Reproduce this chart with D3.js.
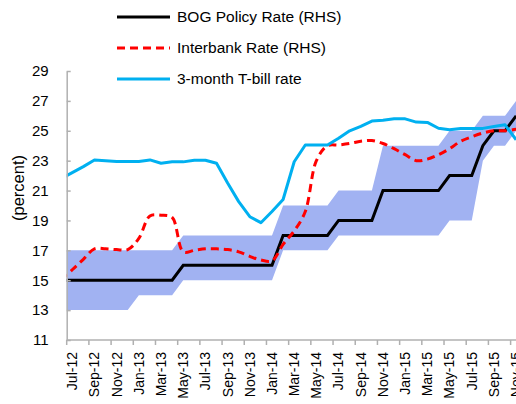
<!DOCTYPE html>
<html>
<head>
<meta charset="utf-8">
<script src="https://cdn.jsdelivr.net/npm/d3@7/dist/d3.min.js"></script>
<style>
  html, body { margin: 0; padding: 0; background: #fff; overflow: hidden; }
  svg { display: block; font-family: "Liberation Sans", Arial, sans-serif; }
</style>
</head>
<body>
<div id="chart"></div>
<script>
// ---- Data (monthly, Jun-12 .. Nov-15; Jun-12 only shows as the line entering the axis) ----
const months = [
  "Jun-12","Jul-12","Aug-12","Sep-12","Oct-12","Nov-12","Dec-12",
  "Jan-13","Feb-13","Mar-13","Apr-13","May-13","Jun-13","Jul-13","Aug-13","Sep-13","Oct-13","Nov-13","Dec-13",
  "Jan-14","Feb-14","Mar-14","Apr-14","May-14","Jun-14","Jul-14","Aug-14","Sep-14","Oct-14","Nov-14","Dec-14",
  "Jan-15","Feb-15","Mar-15","Apr-15","May-15","Jun-15","Jul-15","Aug-15","Sep-15","Oct-15","Nov-15"
];

const policyRate = [
  15, 15, 15, 15, 15, 15, 15,
  15, 15, 15, 15, 16, 16, 16, 16, 16, 16, 16, 16,
  16, 18, 18, 18, 18, 18, 19, 19, 19, 19, 21, 21,
  21, 21, 21, 21, 22, 22, 22, 24, 25, 25, 26
];

const corridorLow = [
  13, 13, 13, 13, 13, 13, 13,
  14, 14, 14, 14, 15, 15, 15, 15, 15, 15, 15, 15,
  15, 17, 17, 17, 17, 17, 18, 18, 18, 18, 18, 18,
  18, 18, 18, 18, 19, 19, 19, 23, 24, 24, 25
];

const corridorHigh = [
  17, 17, 17, 17, 17, 17, 17,
  17, 17, 17, 17, 18, 18, 18, 18, 18, 18, 18, 18,
  18, 20, 20, 20, 20, 20, 21, 21, 21, 21, 24, 24,
  24, 24, 24, 24, 25, 25, 25, 26, 26, 26, 27
];

const interbankRate = [
  15.0, 15.7, 16.4, 17.1, 17.1, 17.05, 17.05,
  17.8, 19.3, 19.35, 19.2, 16.9, 17.0, 17.1, 17.1, 17.05, 16.9, 16.6, 16.35,
  16.3, 17.4, 18.3, 19.6, 23.0, 24.0, 24.05, 24.15, 24.3, 24.35, 24.15, 23.8,
  23.4, 23.0, 23.1, 23.4, 23.8, 24.3, 24.6, 24.85, 25.0, 25.0, 25.1
];

const tbillRate = [
  21.8, 22.2, 22.6, 23.05, 23.0, 22.95, 22.95,
  22.95, 23.05, 22.83, 22.92, 22.92, 23.03, 23.03, 22.83, 21.5, 20.26, 19.25, 18.85,
  19.6, 20.4, 22.93, 24.05, 24.05, 24.05, 24.5, 25.0, 25.3, 25.65, 25.7, 25.8,
  25.8, 25.58, 25.56, 25.17, 25.07, 25.16, 25.16, 25.16, 25.28, 25.4, 24.4
];

const xTickLabels = [
  "Jul-12","Sep-12","Nov-12","Jan-13","Mar-13","May-13","Jul-13","Sep-13","Nov-13",
  "Jan-14","Mar-14","May-14","Jul-14","Sep-14","Nov-14","Jan-15","Mar-15","May-15",
  "Jul-15","Sep-15","Nov-15"
];
const yTicks = [11, 13, 15, 17, 19, 21, 23, 25, 27, 29];

const legendItems = [
  { label: "BOG Policy Rate (RHS)", color: "#000000", dash: null },
  { label: "Interbank Rate (RHS)", color: "#ff0000", dash: "8,5" },
  { label: "3-month T-bill rate", color: "#00b0f0", dash: null },
];

// ---- Layout ----
const W = 516, H = 404;
const plot = { left: 66.7, top: 71, bottom: 340, width: 455 };
const visibleMonths = 41;                       // Jul-12 .. Nov-15
const step = plot.width / visibleMonths;

const svg = d3.select("#chart").append("svg")
  .attr("width", W)
  .attr("height", H);

// ---- Scales ----
const x = d3.scaleBand()
  .domain(months)
  .range([plot.left - step, plot.left + plot.width])
  .padding(0);

const cx = m => x(m) + x.bandwidth() / 2;

const y = d3.scaleLinear()
  .domain([11, 29])
  .range([plot.bottom, plot.top]);

const rows = months.map((m, i) => ({
  m,
  policy: policyRate[i],
  lo: corridorLow[i],
  hi: corridorHigh[i],
  interbank: interbankRate[i],
  tbill: tbillRate[i],
}));

svg.append("clipPath").attr("id", "plot-clip")
  .append("rect")
  .attr("x", plot.left)
  .attr("y", 0)
  .attr("width", W - plot.left + 20)
  .attr("height", plot.bottom);

const g = svg.append("g").attr("clip-path", "url(#plot-clip)");

// ---- Corridor band ----
g.append("path")
  .datum(rows)
  .attr("fill", "#a1b2f2")
  .attr("d", d3.area()
    .x(d => cx(d.m))
    .y0(d => y(d.lo))
    .y1(d => y(d.hi)));

// ---- Lines ----
g.append("path")
  .datum(rows)
  .attr("fill", "none")
  .attr("stroke", "#000")
  .attr("stroke-width", 3)
  .attr("stroke-linejoin", "miter")
  .attr("d", d3.line().x(d => cx(d.m)).y(d => y(d.policy)));

g.append("path")
  .datum(rows)
  .attr("fill", "none")
  .attr("stroke", "#ff0000")
  .attr("stroke-width", 3)
  .attr("stroke-dasharray", "8,5")
  .attr("d", d3.line().x(d => cx(d.m)).y(d => y(d.interbank))
    .curve(d3.curveCatmullRom.alpha(0.5)));

g.append("path")
  .datum(rows)
  .attr("fill", "none")
  .attr("stroke", "#00b0f0")
  .attr("stroke-width", 3)
  .attr("stroke-linejoin", "round")
  .attr("d", d3.line().x(d => cx(d.m)).y(d => y(d.tbill)));

// ---- Axes ----
const axisColor = "#b0b0b0";

const yAxis = svg.append("g")
  .attr("transform", `translate(${plot.left},0)`)
  .call(d3.axisLeft(y).tickValues(yTicks).tickSizeInner(-4).tickSizeOuter(0).tickPadding(18));
yAxis.select(".domain").attr("stroke", axisColor).attr("stroke-width", 1.5);
yAxis.selectAll(".tick line").attr("stroke", axisColor).attr("stroke-width", 1.5);
yAxis.selectAll(".tick text")
  .attr("font-size", 15)
  .attr("fill", "#000")
  .attr("font-family", "Liberation Sans, Arial, sans-serif");

const xAxis = svg.append("g");
xAxis.append("line")
  .attr("x1", plot.left).attr("x2", W)
  .attr("y1", y(11)).attr("y2", y(11))
  .attr("stroke", axisColor).attr("stroke-width", 1.5);

xAxis.selectAll("line.tick")
  .data(xTickLabels)
  .join("line")
  .attr("class", "tick")
  .attr("x1", d => x(d)).attr("x2", d => x(d))
  .attr("y1", y(11)).attr("y2", y(11) + 5)
  .attr("stroke", axisColor).attr("stroke-width", 1.5);

xAxis.selectAll("text")
  .data(xTickLabels)
  .join("text")
  .attr("transform", d => `translate(${cx(d)},${y(11) + 12}) rotate(-90)`)
  .attr("text-anchor", "end")
  .attr("dy", "0.35em")
  .attr("font-size", 14)
  .attr("fill", "#000")
  .text(d => d);

svg.append("text")
  .attr("transform", `translate(18,188) rotate(-90)`)
  .attr("text-anchor", "middle")
  .attr("dy", "0.35em")
  .attr("font-size", 16.5)
  .attr("fill", "#000")
  .text("(percent)");

// ---- Legend ----
const legend = svg.append("g");
const legendY = [17, 48, 79];
legendItems.forEach((item, i) => {
  legend.append("line")
    .attr("x1", 117).attr("x2", 170)
    .attr("y1", legendY[i]).attr("y2", legendY[i])
    .attr("stroke", item.color)
    .attr("stroke-width", 3)
    .attr("stroke-dasharray", item.dash);
  legend.append("text")
    .attr("x", 177)
    .attr("y", legendY[i])
    .attr("dy", "0.35em")
    .attr("font-size", 15.5)
    .attr("fill", "#000")
    .text(item.label);
});
</script>
</body>
</html>
